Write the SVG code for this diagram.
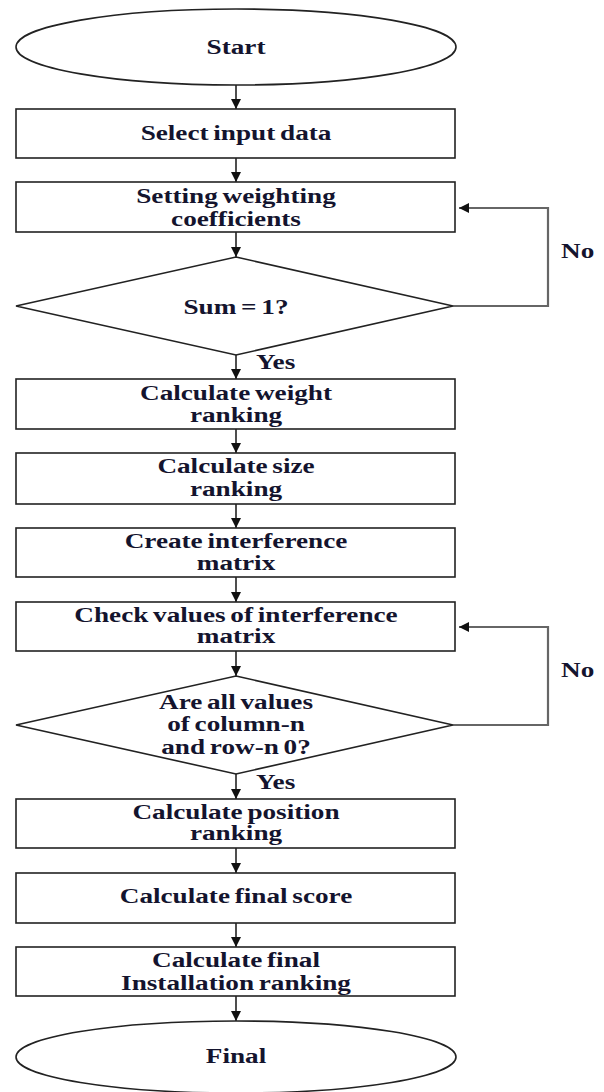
<svg xmlns="http://www.w3.org/2000/svg" width="604" height="1092" viewBox="0 0 604 1092">
<style>
.s{fill:#fff;stroke:#222;stroke-width:1.6}
.t{font-family:"Liberation Serif","Times New Roman",serif;font-weight:bold;font-size:20px;word-spacing:-1.5px;fill:#14142e;text-anchor:middle}
.l{text-anchor:start}
.c{fill:none;stroke:#222;stroke-width:1.6}
.lp{fill:none;stroke:#666;stroke-width:2.2}
</style>
<defs>
<marker id="ah" viewBox="0 0 10 10" refX="10" refY="5" markerWidth="10" markerHeight="10" markerUnits="userSpaceOnUse" orient="auto">
<path d="M0,0 L10,5 L0,10 z" fill="#111"/>
</marker>
</defs>
<rect width="604" height="1092" fill="#fff"/>
<g id="connectors">
<line class="c" x1="236" y1="85" x2="236" y2="109" marker-end="url(#ah)"/>
<line class="c" x1="236" y1="158" x2="236" y2="182" marker-end="url(#ah)"/>
<line class="c" x1="236" y1="232" x2="236" y2="257" marker-end="url(#ah)"/>
<line class="c" x1="236" y1="355" x2="236" y2="379" marker-end="url(#ah)"/>
<line class="c" x1="236" y1="429" x2="236" y2="453" marker-end="url(#ah)"/>
<line class="c" x1="236" y1="504" x2="236" y2="528" marker-end="url(#ah)"/>
<line class="c" x1="236" y1="577" x2="236" y2="602" marker-end="url(#ah)"/>
<line class="c" x1="236" y1="651" x2="236" y2="676" marker-end="url(#ah)"/>
<line class="c" x1="236" y1="774" x2="236" y2="799" marker-end="url(#ah)"/>
<line class="c" x1="236" y1="848" x2="236" y2="873" marker-end="url(#ah)"/>
<line class="c" x1="236" y1="923" x2="236" y2="947" marker-end="url(#ah)"/>
<line class="c" x1="236" y1="996" x2="236" y2="1021" marker-end="url(#ah)"/>
<polyline class="lp" points="453,306 548,306 548,208 459,208" marker-end="url(#ah)"/>
<polyline class="lp" points="453,725 548,725 548,627 459,627" marker-end="url(#ah)"/>
<text class="t l" transform="translate(256,369) scale(1.36,1)">Yes</text>
<text class="t l" transform="translate(256,789) scale(1.36,1)">Yes</text>
<text class="t l" transform="translate(561,258) scale(1.36,1)">No</text>
<text class="t l" transform="translate(561,677) scale(1.36,1)">No</text>
</g>
<g id="start">
<ellipse class="s" cx="236" cy="47" rx="220" ry="38"/>
<text class="t" transform="translate(236,54) scale(1.36,1)">Start</text>
</g>
<g id="select">
<rect class="s" x="16" y="109" width="439" height="49"/>
<text class="t" transform="translate(236,140) scale(1.36,1)">Select input data</text>
</g>
<g id="setting">
<rect class="s" x="16" y="182" width="439" height="50"/>
<text class="t" transform="translate(236,203) scale(1.36,1)">Setting weighting</text>
<text class="t" transform="translate(236,226) scale(1.36,1)">coefficients</text>
</g>
<g id="sum">
<polygon class="s" points="236,257 453,306 236,355 16,306"/>
<text class="t" transform="translate(236,314) scale(1.36,1)">Sum = 1?</text>
</g>
<g id="weight">
<rect class="s" x="16" y="379" width="439" height="50"/>
<text class="t" transform="translate(236,400) scale(1.36,1)">Calculate weight</text>
<text class="t" transform="translate(236,422) scale(1.36,1)">ranking</text>
</g>
<g id="size">
<rect class="s" x="16" y="453" width="439" height="51"/>
<text class="t" transform="translate(236,473) scale(1.36,1)">Calculate size</text>
<text class="t" transform="translate(236,496) scale(1.36,1)">ranking</text>
</g>
<g id="create">
<rect class="s" x="16" y="528" width="439" height="49"/>
<text class="t" transform="translate(236,548) scale(1.36,1)">Create interference</text>
<text class="t" transform="translate(236,570) scale(1.36,1)">matrix</text>
</g>
<g id="check">
<rect class="s" x="16" y="602" width="439" height="49"/>
<text class="t" transform="translate(236,622) scale(1.36,1)">Check values of interference</text>
<text class="t" transform="translate(236,643) scale(1.36,1)">matrix</text>
</g>
<g id="allvalues">
<polygon class="s" points="236,676 453,725 236,774 16,725"/>
<text class="t" transform="translate(236,709) scale(1.36,1)">Are all values</text>
<text class="t" transform="translate(236,731) scale(1.36,1)">of column-n</text>
<text class="t" transform="translate(236,754) scale(1.36,1)">and row-n 0?</text>
</g>
<g id="position">
<rect class="s" x="16" y="799" width="439" height="49"/>
<text class="t" transform="translate(236,819) scale(1.36,1)">Calculate position</text>
<text class="t" transform="translate(236,840) scale(1.36,1)">ranking</text>
</g>
<g id="score">
<rect class="s" x="16" y="873" width="439" height="50"/>
<text class="t" transform="translate(236,903) scale(1.36,1)">Calculate final score</text>
</g>
<g id="installation">
<rect class="s" x="16" y="947" width="439" height="49"/>
<text class="t" transform="translate(236,967) scale(1.36,1)">Calculate final</text>
<text class="t" transform="translate(236,990) scale(1.36,1)">Installation ranking</text>
</g>
<g id="final">
<ellipse class="s" cx="236" cy="1057" rx="220" ry="36"/>
<text class="t" transform="translate(236,1063) scale(1.36,1)">Final</text>
</g>
</svg>
